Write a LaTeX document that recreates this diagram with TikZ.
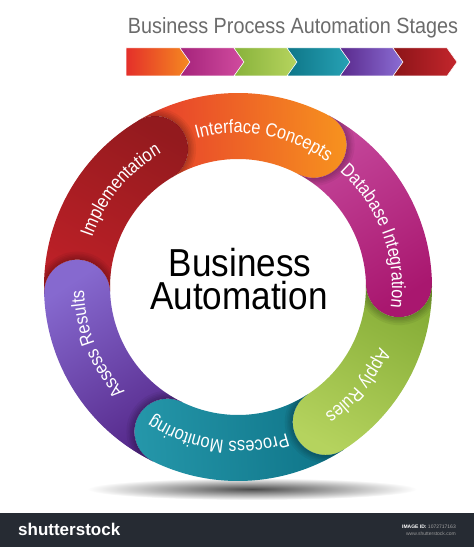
\documentclass[tikz,border=0pt]{standalone}
\usepackage{fontspec}
\setmainfont{Liberation Sans}
\newfontfamily\labfont[FakeStretch=0.86]{Liberation Sans}
\newfontfamily\bigfont[FakeStretch=0.9]{Liberation Sans}
\newfontfamily\ttlfont[FakeStretch=0.9]{Liberation Sans}
\usetikzlibrary{decorations.text}

\definecolor{ifA}{HTML}{E63A2D}\definecolor{ifB}{HTML}{F7941E}
\definecolor{dbA}{HTML}{C5489C}\definecolor{dbB}{HTML}{A9176F}
\definecolor{apA}{HTML}{86AD37}\definecolor{apB}{HTML}{B5D35E}
\definecolor{pmA}{HTML}{0E7387}\definecolor{pmB}{HTML}{2597AA}
\definecolor{asA}{HTML}{55288A}\definecolor{asB}{HTML}{8669CF}
\definecolor{imA}{HTML}{BC2027}\definecolor{imB}{HTML}{931A1E}
\definecolor{aOneA}{HTML}{E42F2A}\definecolor{aOneB}{HTML}{F58A20}
\definecolor{aTwoA}{HTML}{A5237B}\definecolor{aTwoB}{HTML}{D14C9F}
\definecolor{aThrA}{HTML}{88B23B}\definecolor{aThrB}{HTML}{B6D45E}
\definecolor{aFouA}{HTML}{0E7688}\definecolor{aFouB}{HTML}{27A2B5}
\definecolor{aFivA}{HTML}{59298C}\definecolor{aFivB}{HTML}{8B6DD4}
\definecolor{aSixA}{HTML}{8C1418}\definecolor{aSixB}{HTML}{C3262C}
\definecolor{footbg}{HTML}{262B33}
\definecolor{ttlgray}{HTML}{6B6B6B}

\newcommand\segpath[2]{(#1:194pt) arc[start angle=#1, end angle=#2, radius=194pt]
  arc[start angle=#2, end angle=#2-180, radius=33pt]
  arc[start angle=#2, end angle=#1, radius=128pt]
  arc[start angle=#1+180, end angle=#1+360, radius=33pt] -- cycle}
\newcommand\segshadow[2]{\begin{scope}\clip \segpath{#1}{#2};
  \foreach \rr in {34.5,36,37.5,39,41}{\fill[black,opacity=0.05] (#1:161pt) circle[radius=\rr pt];}
  \end{scope}}
\newcommand\seglabel[2]{\pgfmathsetmacro\sa{#1+50}\pgfmathsetmacro\sb{#1-50}%
  \path[decorate, decoration={text along path, text align=center, text color=white,
    text={|\labfont\fontsize{19}{19}\selectfont|#2}}]
    (\sa:154pt) arc[start angle=\sa, end angle=\sb, radius=154pt];}

\begin{document}
\begin{tikzpicture}[x=1pt,y=1pt,
  chev/.style={draw=white, line width=0.5pt}]
\useasboundingbox (0,0) rectangle (474,547);
\fill[white] (0,0) rectangle (474,547);

% title
\node[anchor=base, inner sep=0, font=\ttlfont\fontsize{22}{22}\selectfont, text=ttlgray] (title) at (293,513) {Business Process Automation Stages};

% chevron bar
\shade[chev, left color=aOneA, right color=aOneB] (126,499) -- (180,499) -- (190,485) -- (180,471) -- (126,471) -- cycle;
\shade[chev, left color=aTwoA, right color=aTwoB] (180,499) -- (234,499) -- (244,485) -- (234,471) -- (180,471) -- (190,485) -- cycle;
\shade[chev, left color=aThrA, right color=aThrB] (234,499) -- (287,499) -- (297,485) -- (287,471) -- (234,471) -- (244,485) -- cycle;
\shade[chev, left color=aFouA, right color=aFouB] (287,499) -- (340,499) -- (350,485) -- (340,471) -- (287,471) -- (297,485) -- cycle;
\shade[chev, left color=aFivA, right color=aFivB] (340,499) -- (393,499) -- (403,485) -- (393,471) -- (340,471) -- (350,485) -- cycle;
\shade[chev, left color=aSixA, right color=aSixB] (393,499) -- (447,499) -- (457,485) -- (447,471) -- (393,471) -- (403,485) -- cycle;

% ground shadow
\shade[inner color=black!70, outer color=white] (252,58) ellipse[x radius=165pt, y radius=11pt];

\begin{scope}[shift={(238,260)}]
  \shade[top color=ifA, bottom color=ifB, shading angle=91.5] \segpath{121}{62};
  \shade[top color=dbA, bottom color=dbB, shading angle=31.5] \segpath{62}{1};
  \shade[top color=apA, bottom color=apB, shading angle=-28] \segpath{1}{-57};
  \shade[top color=pmA, bottom color=pmB, shading angle=-86.5] \segpath{-57}{-116};
  \shade[top color=asA, bottom color=asB, shading angle=-147] \segpath{-116}{-178};
  \shade[top color=imA, bottom color=imB, shading angle=151.5] \segpath{182}{121};
  \segshadow{121}{62}
  \segshadow{62}{1}
  \segshadow{1}{-57}
  \segshadow{-57}{-116}
  \segshadow{-116}{-178}
  \segshadow{182}{121}
  \seglabel{80}{Interface Concepts}
  \seglabel{20.5}{Database Integration}
  \seglabel{-39.5}{Apply Rules}
  \seglabel{-97.5}{Process Monitoring}
  \seglabel{-158}{Assess Results}
  \seglabel{140.5}{Implementation}
\end{scope}

% centre text
\node[anchor=base, inner sep=0, font=\bigfont\fontsize{39}{39}\selectfont] (biz) at (240,270) {Business};
\node[anchor=base, inner sep=0, font=\bigfont\fontsize{39}{39}\selectfont] (auto) at (239,237) {Automation};

% footer
\fill[footbg] (0,0) rectangle (474,34);
\node[anchor=base west, inner sep=0, text=white, font=\bfseries\fontsize{17}{17}\selectfont] (brand) at (18,11) {shutterstock};
\node[anchor=base east, inner sep=0, text=gray!70, font=\fontsize{5}{5}\selectfont] (imgid) at (456,19) {\textcolor{white}{\bfseries IMAGE ID:} 1072717163};
\node[anchor=base east, inner sep=0, text=gray!80, font=\fontsize{5}{5}\selectfont] (www) at (456,11) {www.shutterstock.com};
\end{tikzpicture}
\end{document}
